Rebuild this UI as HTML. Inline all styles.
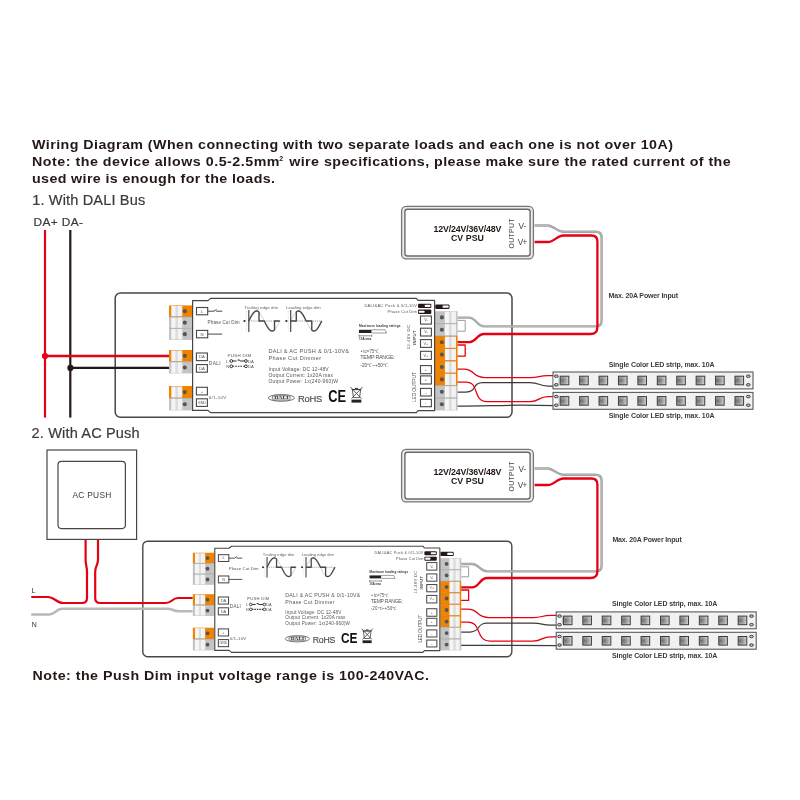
<!DOCTYPE html>
<html lang="en"><head><meta charset="utf-8"><title>Wiring Diagram</title>
<style>
html,body{margin:0;padding:0;background:#fff;}
body{width:800px;height:800px;overflow:hidden;font-family:"Liberation Sans",Arial,sans-serif;}
svg{display:block;will-change:transform;}
</style></head><body>
<svg width="800" height="800" viewBox="0 0 800 800">
<defs>
<linearGradient id="lev" x1="0" y1="0" x2="1" y2="0">
<stop offset="0" stop-color="#f6f6f6"/><stop offset="0.36" stop-color="#f4f4f4"/><stop offset="0.40" stop-color="#dcdcdc"/><stop offset="0.58" stop-color="#dedede"/><stop offset="0.62" stop-color="#f4f4f4"/><stop offset="1" stop-color="#f0f0f0"/>
</linearGradient>
<radialGradient id="led" cx="0.22" cy="0.5" r="0.8">
<stop offset="0" stop-color="#6e6e6e"/><stop offset="0.45" stop-color="#9a9a9a"/><stop offset="1" stop-color="#d4d4d4"/>
</radialGradient>
</defs>
<rect width="800" height="800" fill="#fff"/>
<text transform="translate(32,149) scale(1.08,1)" font-size="13.2" textLength="593.52" font-weight="bold" fill="#231815" font-family="Liberation Sans, Arial, sans-serif">Wiring Diagram (When connecting with two separate loads and each one is not over 10A)</text>
<text transform="translate(32,166.3) scale(1.08,1)" font-size="13.2" textLength="229.17" font-weight="bold" fill="#231815" font-family="Liberation Sans, Arial, sans-serif">Note: the device allows 0.5-2.5mm</text>
<text transform="translate(279.2,160.6) scale(1.0,1)" font-size="7" textLength="4.00" font-weight="bold" fill="#231815" font-family="Liberation Sans, Arial, sans-serif">2</text>
<text transform="translate(289.2,166.3) scale(1.08,1)" font-size="13.2" textLength="408.80" font-weight="bold" fill="#231815" font-family="Liberation Sans, Arial, sans-serif">wire specifications, please make sure the rated current of the</text>
<text transform="translate(32,183.3) scale(1.08,1)" font-size="13.2" textLength="225.00" font-weight="bold" fill="#231815" font-family="Liberation Sans, Arial, sans-serif">used wire is enough for the loads.</text>
<text transform="translate(32.2,205) scale(1.04,1)" font-size="14" textLength="108.65" fill="#3e3a39" stroke="#3e3a39" stroke-width="0.2" font-family="Liberation Sans, Arial, sans-serif">1. With DALI Bus</text>
<text transform="translate(33.6,226.2) scale(1.05,1)" font-size="11.3" textLength="47.05" fill="#3e3a39" stroke="#3e3a39" stroke-width="0.2" font-family="Liberation Sans, Arial, sans-serif">DA+ DA-</text>
<text transform="translate(31.6,438) scale(1.04,1)" font-size="14" textLength="103.85" fill="#3e3a39" stroke="#3e3a39" stroke-width="0.2" font-family="Liberation Sans, Arial, sans-serif">2. With AC Push</text>
<text transform="translate(32.5,679.6) scale(1.08,1)" font-size="13.2" textLength="367.13" font-weight="bold" fill="#231815" font-family="Liberation Sans, Arial, sans-serif">Note: the Push Dim input voltage range is 100-240VAC.</text>
<g id="top">
<rect x="115.2" y="293" width="396.8" height="124.2" rx="5.2" ry="5.2" fill="#fff" stroke="#4a4645" stroke-width="1.5"/>
<rect x="169" y="305.4" width="23.2" height="11.5" fill="#f08300"/><rect x="171.32" y="305.90" width="10.90" height="10.50" fill="url(#lev)"/><circle cx="184.78" cy="311.15" r="2.05" fill="#555"/><rect x="169" y="316.9" width="23.2" height="11.5" fill="#c4c4c4"/><rect x="171.32" y="317.40" width="10.90" height="10.50" fill="url(#lev)"/><circle cx="184.78" cy="322.65" r="2.05" fill="#555"/><rect x="169" y="328.4" width="23.2" height="11.5" fill="#c4c4c4"/><rect x="171.32" y="328.90" width="10.90" height="10.50" fill="url(#lev)"/><circle cx="184.78" cy="334.15" r="2.05" fill="#555"/><line x1="169" y1="316.90" x2="192.2" y2="316.90" stroke="#9a9a9a" stroke-width="0.6"/><line x1="169" y1="328.40" x2="192.2" y2="328.40" stroke="#9a9a9a" stroke-width="0.6"/>
<rect x="169" y="350.0" width="23.2" height="11.7" fill="#f08300"/><rect x="171.32" y="350.50" width="10.90" height="10.70" fill="url(#lev)"/><circle cx="184.78" cy="355.85" r="2.05" fill="#555"/><rect x="169" y="361.7" width="23.2" height="11.7" fill="#c4c4c4"/><rect x="171.32" y="362.20" width="10.90" height="10.70" fill="url(#lev)"/><circle cx="184.78" cy="367.55" r="2.05" fill="#555"/><line x1="169" y1="361.70" x2="192.2" y2="361.70" stroke="#9a9a9a" stroke-width="0.6"/>
<rect x="169" y="386.0" width="23.2" height="12.2" fill="#f08300"/><rect x="171.32" y="386.50" width="10.90" height="11.20" fill="url(#lev)"/><circle cx="184.78" cy="392.10" r="2.05" fill="#555"/><rect x="169" y="398.2" width="23.2" height="12.2" fill="#c4c4c4"/><rect x="171.32" y="398.70" width="10.90" height="11.20" fill="url(#lev)"/><circle cx="184.78" cy="404.30" r="2.05" fill="#555"/><line x1="169" y1="398.20" x2="192.2" y2="398.20" stroke="#9a9a9a" stroke-width="0.6"/>
<rect x="435" y="311.2" width="22.6" height="12.4" fill="#c4c4c4"/><rect x="444.94" y="311.70" width="11.07" height="11.40" fill="url(#lev)"/><circle cx="441.89" cy="317.40" r="2.05" fill="#555"/><rect x="435" y="323.59999999999997" width="22.6" height="12.4" fill="#c4c4c4"/><rect x="444.94" y="324.10" width="11.07" height="11.40" fill="url(#lev)"/><circle cx="441.89" cy="329.80" r="2.05" fill="#555"/><rect x="435" y="336.0" width="22.6" height="12.4" fill="#f08300"/><rect x="444.94" y="336.50" width="11.07" height="11.40" fill="url(#lev)"/><circle cx="441.89" cy="342.20" r="2.05" fill="#555"/><rect x="435" y="348.4" width="22.6" height="12.4" fill="#f08300"/><rect x="444.94" y="348.90" width="11.07" height="11.40" fill="url(#lev)"/><circle cx="441.89" cy="354.60" r="2.05" fill="#555"/><rect x="435" y="360.8" width="22.6" height="12.4" fill="#f08300"/><rect x="444.94" y="361.30" width="11.07" height="11.40" fill="url(#lev)"/><circle cx="441.89" cy="367.00" r="2.05" fill="#555"/><rect x="435" y="373.2" width="22.6" height="12.4" fill="#f08300"/><rect x="444.94" y="373.70" width="11.07" height="11.40" fill="url(#lev)"/><circle cx="441.89" cy="379.40" r="2.05" fill="#555"/><rect x="435" y="385.6" width="22.6" height="12.4" fill="#c4c4c4"/><rect x="444.94" y="386.10" width="11.07" height="11.40" fill="url(#lev)"/><circle cx="441.89" cy="391.80" r="2.05" fill="#555"/><rect x="435" y="398.0" width="22.6" height="12.4" fill="#c4c4c4"/><rect x="444.94" y="398.50" width="11.07" height="11.40" fill="url(#lev)"/><circle cx="441.89" cy="404.20" r="2.05" fill="#555"/><line x1="435" y1="323.60" x2="457.6" y2="323.60" stroke="#9a9a9a" stroke-width="0.6"/><line x1="435" y1="336.00" x2="457.6" y2="336.00" stroke="#9a9a9a" stroke-width="0.6"/><line x1="435" y1="348.40" x2="457.6" y2="348.40" stroke="#c8781a" stroke-width="0.6"/><line x1="435" y1="360.80" x2="457.6" y2="360.80" stroke="#c8781a" stroke-width="0.6"/><line x1="435" y1="373.20" x2="457.6" y2="373.20" stroke="#c8781a" stroke-width="0.6"/><line x1="435" y1="385.60" x2="457.6" y2="385.60" stroke="#9a9a9a" stroke-width="0.6"/><line x1="435" y1="398.00" x2="457.6" y2="398.00" stroke="#9a9a9a" stroke-width="0.6"/>
<path d="M192.6,300.6 H208 L210.5,298.4 H416.4 L418,300.3 H434.6 V410.6 H418 L416.4,412.6 H210.5 L208,410.4 H192.6 Z" fill="#fff" stroke="#4a4645" stroke-width="1.2" stroke-linejoin="round"/>
<rect x="196.5" y="307.5" width="11.2" height="7.3" fill="#fff" stroke="#4a4645" stroke-width="1.1"/><text x="202.10" y="312.66" font-size="4.2" text-anchor="middle" fill="#555" font-family="Liberation Sans, Arial, sans-serif">L</text>
<path d="M207.7,311.2 H214 L216.6,309.4 M216.2,311.2 H222.2" fill="none" stroke="#4a4645" stroke-width="1"/>
<rect x="196.5" y="330.4" width="11.2" height="7.4" fill="#fff" stroke="#4a4645" stroke-width="1.1"/><text x="202.10" y="335.61" font-size="4.2" text-anchor="middle" fill="#555" font-family="Liberation Sans, Arial, sans-serif">N</text>
<path d="M207.7,334.1 H222.2" fill="none" stroke="#4a4645" stroke-width="1"/>
<text x="207.6" y="324.3" font-size="4.6" fill="#555" textLength="32" font-family="Liberation Sans, Arial, sans-serif">Phase Cut Dim</text>
<text x="244.20000000000002" y="309" font-size="4.4" fill="#666" textLength="34" font-family="Liberation Sans, Arial, sans-serif">Trailing edge dim</text>
<path d="M248.80,321.00 L249.58,319.44 L250.35,317.91 L251.12,316.46 L251.90,315.12 L252.68,313.93 L253.45,312.91 L254.23,312.09 L255.00,311.49 L255.78,311.12 L256.55,311.00 L257.32,311.12 L258.10,311.49 L258.88,312.09 L259.65,312.91 L260.43,313.93 L261.20,315.12 L261.98,316.46 L262.75,317.91 L263.53,319.44 L264.30,321.00 L265.07,322.56 L265.85,324.09 L266.62,325.54 L267.40,326.88 L268.18,328.07 L268.95,329.09 L269.73,329.91 L270.50,330.51 L271.28,330.88 L272.05,331.00 L272.82,330.88 L273.60,330.51 L274.38,329.91 L275.15,329.09 L275.93,328.07 L276.70,326.88 L277.48,325.54 L278.25,324.09 L279.03,322.56 L279.80,321.00" fill="none" stroke="#888" stroke-width="0.4"/>
<line x1="248.8" y1="321" x2="280.3" y2="321" stroke="#555" stroke-width="0.6" stroke-dasharray="1.2,1"/>
<line x1="248.8" y1="310" x2="248.8" y2="332" stroke="#4a4645" stroke-width="1.2"/>
<rect x="243.60000000000002" y="320.1" width="1.8" height="1.8" fill="#222"/>
<line x1="246.4" y1="311" x2="246.4" y2="331" stroke="#999" stroke-width="0.5" stroke-dasharray="0.8,1.6"/>
<path d="M248.80,321.00 L249.06,320.48 L249.31,319.97 L249.57,319.45 L249.82,318.94 L250.08,318.44 L250.33,317.94 L250.59,317.45 L250.85,316.97 L251.10,316.50 L251.36,316.05 L251.61,315.60 L251.87,315.17 L252.12,314.76 L252.38,314.36 L252.64,313.98 L252.89,313.62 L253.15,313.28 L253.40,312.97 L253.66,312.67 L253.92,312.39 L254.17,312.14 L254.43,311.91 L254.68,311.71 L254.94,311.53 L255.19,311.38 L255.45,311.25 L255.71,311.15 L255.96,311.07 L256.22,311.02 L256.47,311.00 L256.73,311.01 L256.98,311.04 L257.24,311.10 L257.50,311.18 L257.75,311.29 L258.01,311.43 L258.26,311.60 L258.52,311.79 L258.77,312.00 L259.03,312.24 V321 H264.30 L264.30,321.00 L264.56,321.52 L264.81,322.03 L265.07,322.55 L265.32,323.06 L265.58,323.56 L265.83,324.06 L266.09,324.55 L266.35,325.03 L266.60,325.50 L266.86,325.95 L267.11,326.40 L267.37,326.83 L267.62,327.24 L267.88,327.64 L268.14,328.02 L268.39,328.38 L268.65,328.72 L268.90,329.03 L269.16,329.33 L269.42,329.61 L269.67,329.86 L269.93,330.09 L270.18,330.29 L270.44,330.47 L270.69,330.62 L270.95,330.75 L271.21,330.85 L271.46,330.93 L271.72,330.98 L271.97,331.00 L272.23,330.99 L272.48,330.96 L272.74,330.90 L273.00,330.82 L273.25,330.71 L273.51,330.57 L273.76,330.40 L274.02,330.21 L274.27,330.00 L274.53,329.76 V321 H279.80" fill="none" stroke="#4a4645" stroke-width="1.4" stroke-linejoin="round"/>
<text x="286.09999999999997" y="309" font-size="4.4" fill="#666" textLength="34.5" font-family="Liberation Sans, Arial, sans-serif">Leading edge dim</text>
<path d="M290.70,321.00 L291.47,319.44 L292.25,317.91 L293.02,316.46 L293.80,315.12 L294.57,313.93 L295.35,312.91 L296.12,312.09 L296.90,311.49 L297.68,311.12 L298.45,311.00 L299.22,311.12 L300.00,311.49 L300.77,312.09 L301.55,312.91 L302.32,313.93 L303.10,315.12 L303.88,316.46 L304.65,317.91 L305.43,319.44 L306.20,321.00 L306.97,322.56 L307.75,324.09 L308.52,325.54 L309.30,326.88 L310.07,328.07 L310.85,329.09 L311.62,329.91 L312.40,330.51 L313.18,330.88 L313.95,331.00 L314.72,330.88 L315.50,330.51 L316.27,329.91 L317.05,329.09 L317.82,328.07 L318.60,326.88 L319.38,325.54 L320.15,324.09 L320.93,322.56 L321.70,321.00" fill="none" stroke="#888" stroke-width="0.4"/>
<line x1="290.7" y1="321" x2="322.2" y2="321" stroke="#555" stroke-width="0.6" stroke-dasharray="1.2,1"/>
<line x1="290.7" y1="310" x2="290.7" y2="332" stroke="#4a4645" stroke-width="1.2"/>
<rect x="285.5" y="320.1" width="1.8" height="1.8" fill="#222"/>
<line x1="288.3" y1="311" x2="288.3" y2="331" stroke="#999" stroke-width="0.5" stroke-dasharray="0.8,1.6"/>
<path d="M290.7,321 H296.28 L296.28,311.95 L296.53,311.75 L296.78,311.57 L297.02,311.41 L297.27,311.28 L297.52,311.18 L297.77,311.10 L298.02,311.04 L298.26,311.01 L298.51,311.00 L298.76,311.02 L299.01,311.06 L299.26,311.13 L299.50,311.23 L299.75,311.35 L300.00,311.49 L300.25,311.66 L300.50,311.85 L300.74,312.06 L300.99,312.30 L301.24,312.56 L301.49,312.84 L301.74,313.14 L301.98,313.46 L302.23,313.80 L302.48,314.15 L302.73,314.53 L302.98,314.92 L303.22,315.33 L303.47,315.75 L303.72,316.18 L303.97,316.63 L304.22,317.09 L304.46,317.55 L304.71,318.03 L304.96,318.51 L305.21,319.00 L305.46,319.50 L305.70,320.00 L305.95,320.50 L306.20,321.00 H311.78 L311.78,330.05 L312.03,330.25 L312.28,330.43 L312.52,330.59 L312.77,330.72 L313.02,330.82 L313.27,330.90 L313.52,330.96 L313.76,330.99 L314.01,331.00 L314.26,330.98 L314.51,330.94 L314.76,330.87 L315.00,330.77 L315.25,330.65 L315.50,330.51 L315.75,330.34 L316.00,330.15 L316.24,329.94 L316.49,329.70 L316.74,329.44 L316.99,329.16 L317.24,328.86 L317.48,328.54 L317.73,328.20 L317.98,327.85 L318.23,327.47 L318.48,327.08 L318.72,326.67 L318.97,326.25 L319.22,325.82 L319.47,325.37 L319.72,324.91 L319.96,324.45 L320.21,323.97 L320.46,323.49 L320.71,323.00 L320.96,322.50 L321.20,322.00 L321.45,321.50 L321.70,321.00" fill="none" stroke="#4a4645" stroke-width="1.4" stroke-linejoin="round"/>
<rect x="196.4" y="353" width="11" height="7.6" fill="#fff" stroke="#4a4645" stroke-width="1.1"/><text x="201.90" y="358.31" font-size="4.2" text-anchor="middle" fill="#555" font-family="Liberation Sans, Arial, sans-serif">DA</text>
<rect x="196.4" y="364.6" width="11" height="7.6" fill="#fff" stroke="#4a4645" stroke-width="1.1"/><text x="201.90" y="369.91" font-size="4.2" text-anchor="middle" fill="#555" font-family="Liberation Sans, Arial, sans-serif">DA</text>
<text x="208.8" y="364.8" font-size="4.9" fill="#555" textLength="11.8" font-family="Liberation Sans, Arial, sans-serif">DALI</text>
<text x="227.6" y="356.6" font-size="4.4" fill="#555" textLength="23.6" font-family="Liberation Sans, Arial, sans-serif">PUSH DIM</text>
<text x="226.2" y="362.6" font-size="4.2" fill="#555" font-family="Liberation Sans, Arial, sans-serif">L</text>
<text x="226.2" y="367.8" font-size="4.2" fill="#555" font-family="Liberation Sans, Arial, sans-serif">N</text>
<text x="248" y="362.6" font-size="4.2" fill="#555" font-family="Liberation Sans, Arial, sans-serif">DA</text>
<text x="248" y="367.8" font-size="4.2" fill="#555" font-family="Liberation Sans, Arial, sans-serif">DA</text>
<path d="M232.6,361 H236.6 M237.6,360 H239.2 V361 M240,361 H244.6" fill="none" stroke="#333" stroke-width="1.1"/>
<path d="M232.6,366.3 H244.6" fill="none" stroke="#333" stroke-width="1.1" stroke-dasharray="1.6,1"/>
<circle cx="231.3" cy="361" r="1.4" fill="#fff" stroke="#333" stroke-width="1"/>
<circle cx="245.9" cy="361" r="1.4" fill="#fff" stroke="#333" stroke-width="1"/>
<circle cx="231.3" cy="366.3" r="1.4" fill="#fff" stroke="#333" stroke-width="1"/>
<circle cx="245.9" cy="366.3" r="1.4" fill="#fff" stroke="#333" stroke-width="1"/>
<rect x="196.4" y="387.3" width="11" height="7.6" fill="#fff" stroke="#4a4645" stroke-width="1.1"/><text x="201.90" y="392.61" font-size="4.2" text-anchor="middle" fill="#555" font-family="Liberation Sans, Arial, sans-serif">+</text>
<rect x="196.4" y="398.8" width="11" height="7.6" fill="#fff" stroke="#4a4645" stroke-width="1.1"/><text x="201.90" y="403.97" font-size="3.8" text-anchor="middle" fill="#555" font-family="Liberation Sans, Arial, sans-serif">GND</text>
<text x="208.8" y="399.2" font-size="4.4" fill="#555" textLength="17.4" font-family="Liberation Sans, Arial, sans-serif">0/1-10V</text>
<text x="268.5" y="353.4" font-size="5.6" fill="#595757" textLength="80.5" font-family="Liberation Sans, Arial, sans-serif">DALI &amp; AC PUSH &amp; 0/1-10V&amp;</text>
<text x="268.5" y="360" font-size="5.6" fill="#595757" textLength="52.7" font-family="Liberation Sans, Arial, sans-serif">Phase Cut Dimmer</text>
<text x="268.5" y="370.8" font-size="5" fill="#595757" textLength="60.2" font-family="Liberation Sans, Arial, sans-serif">Input Voltage: DC 12-48V</text>
<text x="268.5" y="376.8" font-size="5" fill="#595757" textLength="64.5" font-family="Liberation Sans, Arial, sans-serif">Output Current: 1x20A max</text>
<text x="268.5" y="382.8" font-size="5" fill="#595757" textLength="69.5" font-family="Liberation Sans, Arial, sans-serif">Output Power: 1x(240-960)W</text>
<ellipse cx="281.4" cy="397.9" rx="13.1" ry="3.4" fill="#fff" stroke="#555" stroke-width="0.8"/>
<rect x="272.4" y="395.7" width="17.8" height="4.4" rx="1.4" fill="#e4e4e4" stroke="#555" stroke-width="0.7"/>
<text x="281.4" y="399.4" font-size="4" font-weight="bold" text-anchor="middle" fill="#333" textLength="14.4" lengthAdjust="spacingAndGlyphs" font-family="Liberation Serif, serif">DALI</text>
<text x="298" y="402" font-size="9.4" fill="#4a4a4a" stroke="#4a4a4a" stroke-width="0.15" textLength="24.2" font-family="Liberation Sans, Arial, sans-serif">RoHS</text>
<text x="328.2" y="402" font-size="16" font-weight="bold" fill="#111" textLength="17.8" lengthAdjust="spacingAndGlyphs" font-family="Liberation Sans, Arial, sans-serif">CE</text>
<g stroke="#333" stroke-width="0.8" fill="none"><path d="M352.4,389.6 H360.6 L359.6,397.6 H353.4 Z"/><path d="M350.4,387 L361.4,398.6 M362.6,387 L351.6,398.6"/><path d="M351.6,389.4 H361.4"/><path d="M355,388.4 H358" stroke-width="1"/></g>
<rect x="351.5" y="399.6" width="9.8" height="3" fill="#222"/>
<text x="364.4" y="307.2" font-size="4" fill="#555" textLength="52.4" font-family="Liberation Sans, Arial, sans-serif">DALI&amp;AC Push &amp; 0/1-10V</text>
<text x="387.6" y="313" font-size="4" fill="#555" textLength="29.2" font-family="Liberation Sans, Arial, sans-serif">Phase Cut Dim</text>
<rect x="418" y="303.8" width="13.3" height="4.3" rx="1" fill="#231815"/><rect x="424.85" y="304.85" width="5.55" height="2.20" rx="0.5" fill="#fff"/>
<rect x="418" y="309.6" width="13.3" height="4.3" rx="1" fill="#231815"/><rect x="418.90" y="310.65" width="5.55" height="2.20" rx="0.5" fill="#fff"/>
<rect x="435.3" y="304.4" width="14.2" height="4.5" rx="1" fill="#231815"/><rect x="442.60" y="305.45" width="6.00" height="2.40" rx="0.5" fill="#fff"/>
<text x="359" y="327.2" font-size="3.2" font-weight="bold" fill="#333" textLength="41.5" font-family="Liberation Sans, Arial, sans-serif">Maximum loading ratings</text>
<rect x="359" y="329.8" width="12.7" height="3.2" fill="#222"/>
<path d="M371.7,329.8 H385 L386.6,333 H371.7" fill="#fff" stroke="#555" stroke-width="0.6"/>
<path d="M359,335.8 H371.7 M359,334.8 V336.8 M371.7,334.8 V336.8" stroke="#444" stroke-width="0.6" fill="none"/>
<text x="359" y="340" font-size="3" font-weight="bold" fill="#333" textLength="12.5" font-family="Liberation Sans, Arial, sans-serif">10A max</text>
<text x="360.8" y="352.8" font-size="4.8" fill="#666" textLength="18.2" font-family="Liberation Sans, Arial, sans-serif">• tc=75℃</text>
<text x="360.3" y="359.4" font-size="5.4" fill="#555" textLength="34.5" font-family="Liberation Sans, Arial, sans-serif">TEMP RANGE:</text>
<text x="360.3" y="366.8" font-size="4.8" fill="#555" textLength="27.7" font-family="Liberation Sans, Arial, sans-serif">-20℃~+50℃</text>
<text transform="translate(410.4,349.3) rotate(-90)" font-size="4.3" fill="#555" textLength="24.3" font-family="Liberation Sans, Arial, sans-serif">12-48V DC</text>
<text transform="translate(416,345) rotate(-90)" font-size="4.3" font-weight="bold" fill="#4a4a4a" textLength="14.6" font-family="Liberation Sans, Arial, sans-serif">INPUT</text>
<text transform="translate(415.9,402) rotate(-90)" font-size="5" fill="#555" textLength="30" font-family="Liberation Sans, Arial, sans-serif">LED OUTPUT</text>
<rect x="420.5" y="316" width="10.9" height="8.1" fill="#fff" stroke="#4a4645" stroke-width="1.1"/><text x="425.95" y="321.42" font-size="3.8" text-anchor="middle" fill="#555" font-family="Liberation Sans, Arial, sans-serif">V-</text>
<rect x="420.5" y="328.2" width="10.9" height="7.8" fill="#fff" stroke="#4a4645" stroke-width="1.1"/><text x="425.95" y="333.47" font-size="3.8" text-anchor="middle" fill="#555" font-family="Liberation Sans, Arial, sans-serif">V-</text>
<rect x="420.5" y="339.6" width="10.9" height="7.8" fill="#fff" stroke="#4a4645" stroke-width="1.1"/><text x="425.95" y="344.87" font-size="3.8" text-anchor="middle" fill="#555" font-family="Liberation Sans, Arial, sans-serif">V+</text>
<rect x="420.5" y="351.3" width="10.9" height="8.1" fill="#fff" stroke="#4a4645" stroke-width="1.1"/><text x="425.95" y="356.72" font-size="3.8" text-anchor="middle" fill="#555" font-family="Liberation Sans, Arial, sans-serif">V+</text>
<rect x="420.5" y="365.6" width="10.9" height="8.1" fill="#fff" stroke="#4a4645" stroke-width="1.1"/><text x="425.95" y="371.02" font-size="3.8" text-anchor="middle" fill="#555" font-family="Liberation Sans, Arial, sans-serif">+</text>
<rect x="420.5" y="375.9" width="10.9" height="8.1" fill="#fff" stroke="#4a4645" stroke-width="1.1"/><text x="425.95" y="381.32" font-size="3.8" text-anchor="middle" fill="#555" font-family="Liberation Sans, Arial, sans-serif">+</text>
<rect x="420.5" y="388.4" width="10.9" height="7.6" fill="#fff" stroke="#4a4645" stroke-width="1.1"/><text x="425.95" y="393.57" font-size="3.8" text-anchor="middle" fill="#555" font-family="Liberation Sans, Arial, sans-serif">-</text>
<rect x="420.5" y="399.3" width="10.9" height="7.4" fill="#fff" stroke="#4a4645" stroke-width="1.1"/><text x="425.95" y="404.37" font-size="3.8" text-anchor="middle" fill="#555" font-family="Liberation Sans, Arial, sans-serif">-</text>
<path d="M45,230 V417.6" fill="none" stroke="#e60012" stroke-width="2.2" stroke-linejoin="round"/>
<path d="M70.3,230 V417.6" fill="none" stroke="#231815" stroke-width="2.2" stroke-linejoin="round"/>
<path d="M45,356 H169" fill="none" stroke="#e60012" stroke-width="2.4" stroke-linejoin="round"/>
<path d="M70.4,367.9 H169" fill="none" stroke="#231815" stroke-width="2.4" stroke-linejoin="round"/>
<circle cx="45" cy="356" r="3.1" fill="#e60012"/><circle cx="70.4" cy="367.9" r="3.1" fill="#231815"/>
<rect x="401.6" y="206.4" width="131.8" height="52.4" rx="4.6" fill="#ececec" stroke="#757575" stroke-width="1.3"/>
<rect x="404.9" y="209.20000000000002" width="125.2" height="46.8" rx="2.4" fill="#fff" stroke="#6a6a6a" stroke-width="1.4"/>
<text x="467.4" y="231.5" font-size="8.8" font-weight="bold" text-anchor="middle" fill="#231815" textLength="68" font-family="Liberation Sans, Arial, sans-serif">12V/24V/36V/48V</text>
<text x="467.4" y="240.9" font-size="8.8" font-weight="bold" text-anchor="middle" fill="#231815" textLength="33" font-family="Liberation Sans, Arial, sans-serif">CV PSU</text>
<text transform="translate(514.3,248.4) rotate(-90)" font-size="6.8" fill="#444" textLength="29.8" font-family="Liberation Sans, Arial, sans-serif">OUTPUT</text>
<text x="518.6" y="229.0" font-size="8.2" fill="#444" font-family="Liberation Sans, Arial, sans-serif">V-</text>
<text x="517.8" y="244.8" font-size="8.2" fill="#444" textLength="9.6" font-family="Liberation Sans, Arial, sans-serif">V+</text>
<path d="M534.6,225.5 H548 C553,225.5 557,231.8 563.5,231.8 H595.6 Q601.6,231.8 601.6,237.8 V320.4 Q601.6,326.4 595.6,326.4 H484 C477,326.4 476,317.6 469,317.6 H457.6" fill="none" stroke="#a0a0a0" stroke-width="2.4" stroke-linejoin="round"/><path d="M534.6,225.5 H548 C553,225.5 557,231.8 563.5,231.8 H595.6 Q601.6,231.8 601.6,237.8 V320.4 Q601.6,326.4 595.6,326.4 H484 C477,326.4 476,317.6 469,317.6 H457.6" fill="none" stroke="#bdbdbd" stroke-width="0.8" stroke-linejoin="round"/>
<path d="M457.6,320.4 H465.2 V331.2 H457.6" fill="none" stroke="#9c9c9c" stroke-width="1" stroke-linejoin="round"/>
<path d="M534.6,242 H548 C554,242 557,235.5 563.5,235.5 H591.4 Q597.4,235.5 597.4,241.5 V327 Q597.4,334 590.4,334 H484 C477,334 476,342.2 469,342.2 H457.6" fill="none" stroke="#e60012" stroke-width="2.3" stroke-linejoin="round"/>
<path d="M457.6,345 H465.2 V356.2 H457.6" fill="none" stroke="#e60012" stroke-width="1.3" stroke-linejoin="round"/>
<path d="M457.6,369 H464 C475,369 472,377.6 485,377.6 H530 C540,377.6 538,375.6 548,375.6 H556" fill="none" stroke="#e60012" stroke-width="1.25" stroke-linejoin="round"/>
<path d="M457.6,392 H466 C477,392 472,382.5 483,382.5 H530 C540,382.5 538,386 548,386 H556" fill="none" stroke="#3e3a39" stroke-width="1.25" stroke-linejoin="round"/>
<path d="M457.6,382 H466 C480,382 472,401.6 487,401.6 H530 C540,401.6 538,396.6 548,396.6 H556" fill="none" stroke="#e60012" stroke-width="1.25" stroke-linejoin="round"/>
<path d="M457.6,406 C480,406 500,405.2 520,405.2 L556,405.6" fill="none" stroke="#3e3a39" stroke-width="1.25" stroke-linejoin="round"/>
<rect x="553" y="372" width="200" height="16.9" fill="#f1f1f1" stroke="#5a5a5a" stroke-width="1.1"/>
<rect x="560.20" y="376.20" width="8.6" height="8.6" fill="url(#led)" stroke="#3c3c3c" stroke-width="1"/>
<rect x="579.62" y="376.20" width="8.6" height="8.6" fill="url(#led)" stroke="#3c3c3c" stroke-width="1"/>
<rect x="599.04" y="376.20" width="8.6" height="8.6" fill="url(#led)" stroke="#3c3c3c" stroke-width="1"/>
<rect x="618.46" y="376.20" width="8.6" height="8.6" fill="url(#led)" stroke="#3c3c3c" stroke-width="1"/>
<rect x="637.88" y="376.20" width="8.6" height="8.6" fill="url(#led)" stroke="#3c3c3c" stroke-width="1"/>
<rect x="657.30" y="376.20" width="8.6" height="8.6" fill="url(#led)" stroke="#3c3c3c" stroke-width="1"/>
<rect x="676.72" y="376.20" width="8.6" height="8.6" fill="url(#led)" stroke="#3c3c3c" stroke-width="1"/>
<rect x="696.14" y="376.20" width="8.6" height="8.6" fill="url(#led)" stroke="#3c3c3c" stroke-width="1"/>
<rect x="715.56" y="376.20" width="8.6" height="8.6" fill="url(#led)" stroke="#3c3c3c" stroke-width="1"/>
<rect x="734.98" y="376.20" width="8.6" height="8.6" fill="url(#led)" stroke="#3c3c3c" stroke-width="1"/>
<rect x="553.6" y="376.20" width="5.4" height="8.6" fill="#fafafa"/>
<ellipse cx="556.3" cy="376.20" rx="1.9" ry="1.25" fill="#c8c8c8" stroke="#2e2e2e" stroke-width="0.9"/>
<ellipse cx="556.3" cy="384.80" rx="1.9" ry="1.25" fill="#c8c8c8" stroke="#2e2e2e" stroke-width="0.9"/>
<ellipse cx="748.3" cy="376.20" rx="1.9" ry="1.25" fill="#c8c8c8" stroke="#2e2e2e" stroke-width="0.9"/>
<ellipse cx="748.3" cy="384.80" rx="1.9" ry="1.25" fill="#c8c8c8" stroke="#2e2e2e" stroke-width="0.9"/>
<line x1="559" y1="377" x2="559" y2="384" stroke="#777" stroke-width="0.5"/>
<rect x="553" y="392.4" width="200" height="16.9" fill="#f1f1f1" stroke="#5a5a5a" stroke-width="1.1"/>
<rect x="560.20" y="396.60" width="8.6" height="8.6" fill="url(#led)" stroke="#3c3c3c" stroke-width="1"/>
<rect x="579.62" y="396.60" width="8.6" height="8.6" fill="url(#led)" stroke="#3c3c3c" stroke-width="1"/>
<rect x="599.04" y="396.60" width="8.6" height="8.6" fill="url(#led)" stroke="#3c3c3c" stroke-width="1"/>
<rect x="618.46" y="396.60" width="8.6" height="8.6" fill="url(#led)" stroke="#3c3c3c" stroke-width="1"/>
<rect x="637.88" y="396.60" width="8.6" height="8.6" fill="url(#led)" stroke="#3c3c3c" stroke-width="1"/>
<rect x="657.30" y="396.60" width="8.6" height="8.6" fill="url(#led)" stroke="#3c3c3c" stroke-width="1"/>
<rect x="676.72" y="396.60" width="8.6" height="8.6" fill="url(#led)" stroke="#3c3c3c" stroke-width="1"/>
<rect x="696.14" y="396.60" width="8.6" height="8.6" fill="url(#led)" stroke="#3c3c3c" stroke-width="1"/>
<rect x="715.56" y="396.60" width="8.6" height="8.6" fill="url(#led)" stroke="#3c3c3c" stroke-width="1"/>
<rect x="734.98" y="396.60" width="8.6" height="8.6" fill="url(#led)" stroke="#3c3c3c" stroke-width="1"/>
<rect x="553.6" y="396.60" width="5.4" height="8.6" fill="#fafafa"/>
<ellipse cx="556.3" cy="396.60" rx="1.9" ry="1.25" fill="#c8c8c8" stroke="#2e2e2e" stroke-width="0.9"/>
<ellipse cx="556.3" cy="405.20" rx="1.9" ry="1.25" fill="#c8c8c8" stroke="#2e2e2e" stroke-width="0.9"/>
<ellipse cx="748.3" cy="396.60" rx="1.9" ry="1.25" fill="#c8c8c8" stroke="#2e2e2e" stroke-width="0.9"/>
<ellipse cx="748.3" cy="405.20" rx="1.9" ry="1.25" fill="#c8c8c8" stroke="#2e2e2e" stroke-width="0.9"/>
<line x1="559" y1="397.4" x2="559" y2="404.4" stroke="#777" stroke-width="0.5"/>
<text x="608.7" y="367" font-size="7" font-weight="bold" textLength="105.8" fill="#3e3a39" font-family="Liberation Sans, Arial, sans-serif">Single Color LED strip, max. 10A</text>
<text x="608.7" y="418" font-size="7" font-weight="bold" textLength="105.8" fill="#3e3a39" font-family="Liberation Sans, Arial, sans-serif">Single Color LED strip, max. 10A</text>
<text x="608.6" y="297.8" font-size="7" font-weight="bold" textLength="69.4" fill="#3e3a39" font-family="Liberation Sans, Arial, sans-serif">Max. 20A Power Input</text>
</g>
<g id="bottom">
<g transform="translate(142.8,541.2) scale(0.93) translate(-115.2,-293)">
<rect x="115.2" y="293" width="396.8" height="124.2" rx="5.2" ry="5.2" fill="#fff" stroke="#4a4645" stroke-width="1.5"/>
<rect x="169" y="305.4" width="23.2" height="11.5" fill="#f08300"/><rect x="171.32" y="305.90" width="10.90" height="10.50" fill="url(#lev)"/><circle cx="184.78" cy="311.15" r="2.05" fill="#555"/><rect x="169" y="316.9" width="23.2" height="11.5" fill="#c4c4c4"/><rect x="171.32" y="317.40" width="10.90" height="10.50" fill="url(#lev)"/><circle cx="184.78" cy="322.65" r="2.05" fill="#555"/><rect x="169" y="328.4" width="23.2" height="11.5" fill="#c4c4c4"/><rect x="171.32" y="328.90" width="10.90" height="10.50" fill="url(#lev)"/><circle cx="184.78" cy="334.15" r="2.05" fill="#555"/><line x1="169" y1="316.90" x2="192.2" y2="316.90" stroke="#9a9a9a" stroke-width="0.6"/><line x1="169" y1="328.40" x2="192.2" y2="328.40" stroke="#9a9a9a" stroke-width="0.6"/>
<rect x="169" y="350.0" width="23.2" height="11.7" fill="#f08300"/><rect x="171.32" y="350.50" width="10.90" height="10.70" fill="url(#lev)"/><circle cx="184.78" cy="355.85" r="2.05" fill="#555"/><rect x="169" y="361.7" width="23.2" height="11.7" fill="#c4c4c4"/><rect x="171.32" y="362.20" width="10.90" height="10.70" fill="url(#lev)"/><circle cx="184.78" cy="367.55" r="2.05" fill="#555"/><line x1="169" y1="361.70" x2="192.2" y2="361.70" stroke="#9a9a9a" stroke-width="0.6"/>
<rect x="169" y="386.0" width="23.2" height="12.2" fill="#f08300"/><rect x="171.32" y="386.50" width="10.90" height="11.20" fill="url(#lev)"/><circle cx="184.78" cy="392.10" r="2.05" fill="#555"/><rect x="169" y="398.2" width="23.2" height="12.2" fill="#c4c4c4"/><rect x="171.32" y="398.70" width="10.90" height="11.20" fill="url(#lev)"/><circle cx="184.78" cy="404.30" r="2.05" fill="#555"/><line x1="169" y1="398.20" x2="192.2" y2="398.20" stroke="#9a9a9a" stroke-width="0.6"/>
<rect x="435" y="311.2" width="22.6" height="12.4" fill="#c4c4c4"/><rect x="444.94" y="311.70" width="11.07" height="11.40" fill="url(#lev)"/><circle cx="441.89" cy="317.40" r="2.05" fill="#555"/><rect x="435" y="323.59999999999997" width="22.6" height="12.4" fill="#c4c4c4"/><rect x="444.94" y="324.10" width="11.07" height="11.40" fill="url(#lev)"/><circle cx="441.89" cy="329.80" r="2.05" fill="#555"/><rect x="435" y="336.0" width="22.6" height="12.4" fill="#f08300"/><rect x="444.94" y="336.50" width="11.07" height="11.40" fill="url(#lev)"/><circle cx="441.89" cy="342.20" r="2.05" fill="#555"/><rect x="435" y="348.4" width="22.6" height="12.4" fill="#f08300"/><rect x="444.94" y="348.90" width="11.07" height="11.40" fill="url(#lev)"/><circle cx="441.89" cy="354.60" r="2.05" fill="#555"/><rect x="435" y="360.8" width="22.6" height="12.4" fill="#f08300"/><rect x="444.94" y="361.30" width="11.07" height="11.40" fill="url(#lev)"/><circle cx="441.89" cy="367.00" r="2.05" fill="#555"/><rect x="435" y="373.2" width="22.6" height="12.4" fill="#f08300"/><rect x="444.94" y="373.70" width="11.07" height="11.40" fill="url(#lev)"/><circle cx="441.89" cy="379.40" r="2.05" fill="#555"/><rect x="435" y="385.6" width="22.6" height="12.4" fill="#c4c4c4"/><rect x="444.94" y="386.10" width="11.07" height="11.40" fill="url(#lev)"/><circle cx="441.89" cy="391.80" r="2.05" fill="#555"/><rect x="435" y="398.0" width="22.6" height="12.4" fill="#c4c4c4"/><rect x="444.94" y="398.50" width="11.07" height="11.40" fill="url(#lev)"/><circle cx="441.89" cy="404.20" r="2.05" fill="#555"/><line x1="435" y1="323.60" x2="457.6" y2="323.60" stroke="#9a9a9a" stroke-width="0.6"/><line x1="435" y1="336.00" x2="457.6" y2="336.00" stroke="#9a9a9a" stroke-width="0.6"/><line x1="435" y1="348.40" x2="457.6" y2="348.40" stroke="#c8781a" stroke-width="0.6"/><line x1="435" y1="360.80" x2="457.6" y2="360.80" stroke="#c8781a" stroke-width="0.6"/><line x1="435" y1="373.20" x2="457.6" y2="373.20" stroke="#c8781a" stroke-width="0.6"/><line x1="435" y1="385.60" x2="457.6" y2="385.60" stroke="#9a9a9a" stroke-width="0.6"/><line x1="435" y1="398.00" x2="457.6" y2="398.00" stroke="#9a9a9a" stroke-width="0.6"/>
<path d="M192.6,300.6 H208 L210.5,298.4 H416.4 L418,300.3 H434.6 V410.6 H418 L416.4,412.6 H210.5 L208,410.4 H192.6 Z" fill="#fff" stroke="#4a4645" stroke-width="1.2" stroke-linejoin="round"/>
<rect x="196.5" y="307.5" width="11.2" height="7.3" fill="#fff" stroke="#4a4645" stroke-width="1.1"/><text x="202.10" y="312.66" font-size="4.2" text-anchor="middle" fill="#555" font-family="Liberation Sans, Arial, sans-serif">L</text>
<path d="M207.7,311.2 H214 L216.6,309.4 M216.2,311.2 H222.2" fill="none" stroke="#4a4645" stroke-width="1"/>
<rect x="196.5" y="330.4" width="11.2" height="7.4" fill="#fff" stroke="#4a4645" stroke-width="1.1"/><text x="202.10" y="335.61" font-size="4.2" text-anchor="middle" fill="#555" font-family="Liberation Sans, Arial, sans-serif">N</text>
<path d="M207.7,334.1 H222.2" fill="none" stroke="#4a4645" stroke-width="1"/>
<text x="207.6" y="324.3" font-size="4.6" fill="#555" textLength="32" font-family="Liberation Sans, Arial, sans-serif">Phase Cut Dim</text>
<text x="244.20000000000002" y="309" font-size="4.4" fill="#666" textLength="34" font-family="Liberation Sans, Arial, sans-serif">Trailing edge dim</text>
<path d="M248.80,321.00 L249.58,319.44 L250.35,317.91 L251.12,316.46 L251.90,315.12 L252.68,313.93 L253.45,312.91 L254.23,312.09 L255.00,311.49 L255.78,311.12 L256.55,311.00 L257.32,311.12 L258.10,311.49 L258.88,312.09 L259.65,312.91 L260.43,313.93 L261.20,315.12 L261.98,316.46 L262.75,317.91 L263.53,319.44 L264.30,321.00 L265.07,322.56 L265.85,324.09 L266.62,325.54 L267.40,326.88 L268.18,328.07 L268.95,329.09 L269.73,329.91 L270.50,330.51 L271.28,330.88 L272.05,331.00 L272.82,330.88 L273.60,330.51 L274.38,329.91 L275.15,329.09 L275.93,328.07 L276.70,326.88 L277.48,325.54 L278.25,324.09 L279.03,322.56 L279.80,321.00" fill="none" stroke="#888" stroke-width="0.4"/>
<line x1="248.8" y1="321" x2="280.3" y2="321" stroke="#555" stroke-width="0.6" stroke-dasharray="1.2,1"/>
<line x1="248.8" y1="310" x2="248.8" y2="332" stroke="#4a4645" stroke-width="1.2"/>
<rect x="243.60000000000002" y="320.1" width="1.8" height="1.8" fill="#222"/>
<line x1="246.4" y1="311" x2="246.4" y2="331" stroke="#999" stroke-width="0.5" stroke-dasharray="0.8,1.6"/>
<path d="M248.80,321.00 L249.06,320.48 L249.31,319.97 L249.57,319.45 L249.82,318.94 L250.08,318.44 L250.33,317.94 L250.59,317.45 L250.85,316.97 L251.10,316.50 L251.36,316.05 L251.61,315.60 L251.87,315.17 L252.12,314.76 L252.38,314.36 L252.64,313.98 L252.89,313.62 L253.15,313.28 L253.40,312.97 L253.66,312.67 L253.92,312.39 L254.17,312.14 L254.43,311.91 L254.68,311.71 L254.94,311.53 L255.19,311.38 L255.45,311.25 L255.71,311.15 L255.96,311.07 L256.22,311.02 L256.47,311.00 L256.73,311.01 L256.98,311.04 L257.24,311.10 L257.50,311.18 L257.75,311.29 L258.01,311.43 L258.26,311.60 L258.52,311.79 L258.77,312.00 L259.03,312.24 V321 H264.30 L264.30,321.00 L264.56,321.52 L264.81,322.03 L265.07,322.55 L265.32,323.06 L265.58,323.56 L265.83,324.06 L266.09,324.55 L266.35,325.03 L266.60,325.50 L266.86,325.95 L267.11,326.40 L267.37,326.83 L267.62,327.24 L267.88,327.64 L268.14,328.02 L268.39,328.38 L268.65,328.72 L268.90,329.03 L269.16,329.33 L269.42,329.61 L269.67,329.86 L269.93,330.09 L270.18,330.29 L270.44,330.47 L270.69,330.62 L270.95,330.75 L271.21,330.85 L271.46,330.93 L271.72,330.98 L271.97,331.00 L272.23,330.99 L272.48,330.96 L272.74,330.90 L273.00,330.82 L273.25,330.71 L273.51,330.57 L273.76,330.40 L274.02,330.21 L274.27,330.00 L274.53,329.76 V321 H279.80" fill="none" stroke="#4a4645" stroke-width="1.4" stroke-linejoin="round"/>
<text x="286.09999999999997" y="309" font-size="4.4" fill="#666" textLength="34.5" font-family="Liberation Sans, Arial, sans-serif">Leading edge dim</text>
<path d="M290.70,321.00 L291.47,319.44 L292.25,317.91 L293.02,316.46 L293.80,315.12 L294.57,313.93 L295.35,312.91 L296.12,312.09 L296.90,311.49 L297.68,311.12 L298.45,311.00 L299.22,311.12 L300.00,311.49 L300.77,312.09 L301.55,312.91 L302.32,313.93 L303.10,315.12 L303.88,316.46 L304.65,317.91 L305.43,319.44 L306.20,321.00 L306.97,322.56 L307.75,324.09 L308.52,325.54 L309.30,326.88 L310.07,328.07 L310.85,329.09 L311.62,329.91 L312.40,330.51 L313.18,330.88 L313.95,331.00 L314.72,330.88 L315.50,330.51 L316.27,329.91 L317.05,329.09 L317.82,328.07 L318.60,326.88 L319.38,325.54 L320.15,324.09 L320.93,322.56 L321.70,321.00" fill="none" stroke="#888" stroke-width="0.4"/>
<line x1="290.7" y1="321" x2="322.2" y2="321" stroke="#555" stroke-width="0.6" stroke-dasharray="1.2,1"/>
<line x1="290.7" y1="310" x2="290.7" y2="332" stroke="#4a4645" stroke-width="1.2"/>
<rect x="285.5" y="320.1" width="1.8" height="1.8" fill="#222"/>
<line x1="288.3" y1="311" x2="288.3" y2="331" stroke="#999" stroke-width="0.5" stroke-dasharray="0.8,1.6"/>
<path d="M290.7,321 H296.28 L296.28,311.95 L296.53,311.75 L296.78,311.57 L297.02,311.41 L297.27,311.28 L297.52,311.18 L297.77,311.10 L298.02,311.04 L298.26,311.01 L298.51,311.00 L298.76,311.02 L299.01,311.06 L299.26,311.13 L299.50,311.23 L299.75,311.35 L300.00,311.49 L300.25,311.66 L300.50,311.85 L300.74,312.06 L300.99,312.30 L301.24,312.56 L301.49,312.84 L301.74,313.14 L301.98,313.46 L302.23,313.80 L302.48,314.15 L302.73,314.53 L302.98,314.92 L303.22,315.33 L303.47,315.75 L303.72,316.18 L303.97,316.63 L304.22,317.09 L304.46,317.55 L304.71,318.03 L304.96,318.51 L305.21,319.00 L305.46,319.50 L305.70,320.00 L305.95,320.50 L306.20,321.00 H311.78 L311.78,330.05 L312.03,330.25 L312.28,330.43 L312.52,330.59 L312.77,330.72 L313.02,330.82 L313.27,330.90 L313.52,330.96 L313.76,330.99 L314.01,331.00 L314.26,330.98 L314.51,330.94 L314.76,330.87 L315.00,330.77 L315.25,330.65 L315.50,330.51 L315.75,330.34 L316.00,330.15 L316.24,329.94 L316.49,329.70 L316.74,329.44 L316.99,329.16 L317.24,328.86 L317.48,328.54 L317.73,328.20 L317.98,327.85 L318.23,327.47 L318.48,327.08 L318.72,326.67 L318.97,326.25 L319.22,325.82 L319.47,325.37 L319.72,324.91 L319.96,324.45 L320.21,323.97 L320.46,323.49 L320.71,323.00 L320.96,322.50 L321.20,322.00 L321.45,321.50 L321.70,321.00" fill="none" stroke="#4a4645" stroke-width="1.4" stroke-linejoin="round"/>
<rect x="196.4" y="353" width="11" height="7.6" fill="#fff" stroke="#4a4645" stroke-width="1.1"/><text x="201.90" y="358.31" font-size="4.2" text-anchor="middle" fill="#555" font-family="Liberation Sans, Arial, sans-serif">DA</text>
<rect x="196.4" y="364.6" width="11" height="7.6" fill="#fff" stroke="#4a4645" stroke-width="1.1"/><text x="201.90" y="369.91" font-size="4.2" text-anchor="middle" fill="#555" font-family="Liberation Sans, Arial, sans-serif">DA</text>
<text x="208.8" y="364.8" font-size="4.9" fill="#555" textLength="11.8" font-family="Liberation Sans, Arial, sans-serif">DALI</text>
<text x="227.6" y="356.6" font-size="4.4" fill="#555" textLength="23.6" font-family="Liberation Sans, Arial, sans-serif">PUSH DIM</text>
<text x="226.2" y="362.6" font-size="4.2" fill="#555" font-family="Liberation Sans, Arial, sans-serif">L</text>
<text x="226.2" y="367.8" font-size="4.2" fill="#555" font-family="Liberation Sans, Arial, sans-serif">N</text>
<text x="248" y="362.6" font-size="4.2" fill="#555" font-family="Liberation Sans, Arial, sans-serif">DA</text>
<text x="248" y="367.8" font-size="4.2" fill="#555" font-family="Liberation Sans, Arial, sans-serif">DA</text>
<path d="M232.6,361 H236.6 M237.6,360 H239.2 V361 M240,361 H244.6" fill="none" stroke="#333" stroke-width="1.1"/>
<path d="M232.6,366.3 H244.6" fill="none" stroke="#333" stroke-width="1.1" stroke-dasharray="1.6,1"/>
<circle cx="231.3" cy="361" r="1.4" fill="#fff" stroke="#333" stroke-width="1"/>
<circle cx="245.9" cy="361" r="1.4" fill="#fff" stroke="#333" stroke-width="1"/>
<circle cx="231.3" cy="366.3" r="1.4" fill="#fff" stroke="#333" stroke-width="1"/>
<circle cx="245.9" cy="366.3" r="1.4" fill="#fff" stroke="#333" stroke-width="1"/>
<rect x="196.4" y="387.3" width="11" height="7.6" fill="#fff" stroke="#4a4645" stroke-width="1.1"/><text x="201.90" y="392.61" font-size="4.2" text-anchor="middle" fill="#555" font-family="Liberation Sans, Arial, sans-serif">+</text>
<rect x="196.4" y="398.8" width="11" height="7.6" fill="#fff" stroke="#4a4645" stroke-width="1.1"/><text x="201.90" y="403.97" font-size="3.8" text-anchor="middle" fill="#555" font-family="Liberation Sans, Arial, sans-serif">GND</text>
<text x="208.8" y="399.2" font-size="4.4" fill="#555" textLength="17.4" font-family="Liberation Sans, Arial, sans-serif">0/1-10V</text>
<text x="268.5" y="353.4" font-size="5.6" fill="#595757" textLength="80.5" font-family="Liberation Sans, Arial, sans-serif">DALI &amp; AC PUSH &amp; 0/1-10V&amp;</text>
<text x="268.5" y="360" font-size="5.6" fill="#595757" textLength="52.7" font-family="Liberation Sans, Arial, sans-serif">Phase Cut Dimmer</text>
<text x="268.5" y="370.8" font-size="5" fill="#595757" textLength="60.2" font-family="Liberation Sans, Arial, sans-serif">Input Voltage: DC 12-48V</text>
<text x="268.5" y="376.8" font-size="5" fill="#595757" textLength="64.5" font-family="Liberation Sans, Arial, sans-serif">Output Current: 1x20A max</text>
<text x="268.5" y="382.8" font-size="5" fill="#595757" textLength="69.5" font-family="Liberation Sans, Arial, sans-serif">Output Power: 1x(240-960)W</text>
<ellipse cx="281.4" cy="397.9" rx="13.1" ry="3.4" fill="#fff" stroke="#555" stroke-width="0.8"/>
<rect x="272.4" y="395.7" width="17.8" height="4.4" rx="1.4" fill="#e4e4e4" stroke="#555" stroke-width="0.7"/>
<text x="281.4" y="399.4" font-size="4" font-weight="bold" text-anchor="middle" fill="#333" textLength="14.4" lengthAdjust="spacingAndGlyphs" font-family="Liberation Serif, serif">DALI</text>
<text x="298" y="402" font-size="9.4" fill="#4a4a4a" stroke="#4a4a4a" stroke-width="0.15" textLength="24.2" font-family="Liberation Sans, Arial, sans-serif">RoHS</text>
<text x="328.2" y="402" font-size="16" font-weight="bold" fill="#111" textLength="17.8" lengthAdjust="spacingAndGlyphs" font-family="Liberation Sans, Arial, sans-serif">CE</text>
<g stroke="#333" stroke-width="0.8" fill="none"><path d="M352.4,389.6 H360.6 L359.6,397.6 H353.4 Z"/><path d="M350.4,387 L361.4,398.6 M362.6,387 L351.6,398.6"/><path d="M351.6,389.4 H361.4"/><path d="M355,388.4 H358" stroke-width="1"/></g>
<rect x="351.5" y="399.6" width="9.8" height="3" fill="#222"/>
<text x="364.4" y="307.2" font-size="4" fill="#555" textLength="52.4" font-family="Liberation Sans, Arial, sans-serif">DALI&amp;AC Push &amp; 0/1-10V</text>
<text x="387.6" y="313" font-size="4" fill="#555" textLength="29.2" font-family="Liberation Sans, Arial, sans-serif">Phase Cut Dim</text>
<rect x="418" y="303.8" width="13.3" height="4.3" rx="1" fill="#231815"/><rect x="424.85" y="304.85" width="5.55" height="2.20" rx="0.5" fill="#fff"/>
<rect x="418" y="309.6" width="13.3" height="4.3" rx="1" fill="#231815"/><rect x="418.90" y="310.65" width="5.55" height="2.20" rx="0.5" fill="#fff"/>
<rect x="435.3" y="304.4" width="14.2" height="4.5" rx="1" fill="#231815"/><rect x="442.60" y="305.45" width="6.00" height="2.40" rx="0.5" fill="#fff"/>
<text x="359" y="327.2" font-size="3.2" font-weight="bold" fill="#333" textLength="41.5" font-family="Liberation Sans, Arial, sans-serif">Maximum loading ratings</text>
<rect x="359" y="329.8" width="12.7" height="3.2" fill="#222"/>
<path d="M371.7,329.8 H385 L386.6,333 H371.7" fill="#fff" stroke="#555" stroke-width="0.6"/>
<path d="M359,335.8 H371.7 M359,334.8 V336.8 M371.7,334.8 V336.8" stroke="#444" stroke-width="0.6" fill="none"/>
<text x="359" y="340" font-size="3" font-weight="bold" fill="#333" textLength="12.5" font-family="Liberation Sans, Arial, sans-serif">10A max</text>
<text x="360.8" y="352.8" font-size="4.8" fill="#666" textLength="18.2" font-family="Liberation Sans, Arial, sans-serif">• tc=75℃</text>
<text x="360.3" y="359.4" font-size="5.4" fill="#555" textLength="34.5" font-family="Liberation Sans, Arial, sans-serif">TEMP RANGE:</text>
<text x="360.3" y="366.8" font-size="4.8" fill="#555" textLength="27.7" font-family="Liberation Sans, Arial, sans-serif">-20℃~+50℃</text>
<text transform="translate(410.4,349.3) rotate(-90)" font-size="4.3" fill="#555" textLength="24.3" font-family="Liberation Sans, Arial, sans-serif">12-48V DC</text>
<text transform="translate(416,345) rotate(-90)" font-size="4.3" font-weight="bold" fill="#4a4a4a" textLength="14.6" font-family="Liberation Sans, Arial, sans-serif">INPUT</text>
<text transform="translate(415.9,402) rotate(-90)" font-size="5" fill="#555" textLength="30" font-family="Liberation Sans, Arial, sans-serif">LED OUTPUT</text>
<rect x="420.5" y="316" width="10.9" height="8.1" fill="#fff" stroke="#4a4645" stroke-width="1.1"/><text x="425.95" y="321.42" font-size="3.8" text-anchor="middle" fill="#555" font-family="Liberation Sans, Arial, sans-serif">V-</text>
<rect x="420.5" y="328.2" width="10.9" height="7.8" fill="#fff" stroke="#4a4645" stroke-width="1.1"/><text x="425.95" y="333.47" font-size="3.8" text-anchor="middle" fill="#555" font-family="Liberation Sans, Arial, sans-serif">V-</text>
<rect x="420.5" y="339.6" width="10.9" height="7.8" fill="#fff" stroke="#4a4645" stroke-width="1.1"/><text x="425.95" y="344.87" font-size="3.8" text-anchor="middle" fill="#555" font-family="Liberation Sans, Arial, sans-serif">V+</text>
<rect x="420.5" y="351.3" width="10.9" height="8.1" fill="#fff" stroke="#4a4645" stroke-width="1.1"/><text x="425.95" y="356.72" font-size="3.8" text-anchor="middle" fill="#555" font-family="Liberation Sans, Arial, sans-serif">V+</text>
<rect x="420.5" y="365.6" width="10.9" height="8.1" fill="#fff" stroke="#4a4645" stroke-width="1.1"/><text x="425.95" y="371.02" font-size="3.8" text-anchor="middle" fill="#555" font-family="Liberation Sans, Arial, sans-serif">+</text>
<rect x="420.5" y="375.9" width="10.9" height="8.1" fill="#fff" stroke="#4a4645" stroke-width="1.1"/><text x="425.95" y="381.32" font-size="3.8" text-anchor="middle" fill="#555" font-family="Liberation Sans, Arial, sans-serif">+</text>
<rect x="420.5" y="388.4" width="10.9" height="7.6" fill="#fff" stroke="#4a4645" stroke-width="1.1"/><text x="425.95" y="393.57" font-size="3.8" text-anchor="middle" fill="#555" font-family="Liberation Sans, Arial, sans-serif">-</text>
<rect x="420.5" y="399.3" width="10.9" height="7.4" fill="#fff" stroke="#4a4645" stroke-width="1.1"/><text x="425.95" y="404.37" font-size="3.8" text-anchor="middle" fill="#555" font-family="Liberation Sans, Arial, sans-serif">-</text>
</g>
<rect x="47" y="450" width="89.6" height="89.4" fill="#fff" stroke="#4a4645" stroke-width="1.2"/>
<rect x="58" y="461.4" width="67.4" height="67.2" rx="3.5" fill="#fff" stroke="#4a4645" stroke-width="1.2"/>
<text x="72.4" y="498" font-size="8.4" textLength="39" fill="#3e3a39" font-family="Liberation Sans, Arial, sans-serif">AC PUSH</text>
<path d="M31.2,597 H48 C54,597 57,603 63,603 H82 Q87,603 87,598 V572 C87,566 85.6,565 85.6,560 V540" fill="none" stroke="#e60012" stroke-width="2.2" stroke-linejoin="round"/>
<path d="M98,540 V560 C98,565 95.2,566 95.2,572 V598 Q95.2,603 100.2,603 H166 C172,603 172,598 178,598 H192.6" fill="none" stroke="#e60012" stroke-width="2.2" stroke-linejoin="round"/>
<path d="M31.2,614.5 H49 C55,614.5 56,608.8 62,608.8 H167 C173,608.8 173,611.3 179,611.3 H192.6" fill="none" stroke="#b9b9b9" stroke-width="2.6" stroke-linejoin="round"/>
<text x="31.6" y="593.4" font-size="7.4" fill="#3e3a39" font-family="Liberation Sans, Arial, sans-serif">L</text>
<text x="31.4" y="626.6" font-size="7.4" fill="#3e3a39" font-family="Liberation Sans, Arial, sans-serif">N</text>
<rect x="401.6" y="449.40000000000003" width="131.8" height="52.4" rx="4.6" fill="#ececec" stroke="#757575" stroke-width="1.3"/>
<rect x="404.9" y="452.2" width="125.2" height="46.8" rx="2.4" fill="#fff" stroke="#6a6a6a" stroke-width="1.4"/>
<text x="467.4" y="474.5" font-size="8.8" font-weight="bold" text-anchor="middle" fill="#231815" textLength="68" font-family="Liberation Sans, Arial, sans-serif">12V/24V/36V/48V</text>
<text x="467.4" y="483.90000000000003" font-size="8.8" font-weight="bold" text-anchor="middle" fill="#231815" textLength="33" font-family="Liberation Sans, Arial, sans-serif">CV PSU</text>
<text transform="translate(514.3,491.40000000000003) rotate(-90)" font-size="6.8" fill="#444" textLength="29.8" font-family="Liberation Sans, Arial, sans-serif">OUTPUT</text>
<text x="518.6" y="472.0" font-size="8.2" fill="#444" font-family="Liberation Sans, Arial, sans-serif">V-</text>
<text x="517.8" y="487.8" font-size="8.2" fill="#444" textLength="9.6" font-family="Liberation Sans, Arial, sans-serif">V+</text>
<path d="M534.6,468.5 H548 C553,468.5 557,474.8 563.5,474.8 H595.6 Q601.6,474.8 601.6,480.8 V565.4 Q601.6,571.4 595.6,571.4 H487 C480,571.4 479,564 472,564 H461.2" fill="none" stroke="#a0a0a0" stroke-width="2.4" stroke-linejoin="round"/><path d="M534.6,468.5 H548 C553,468.5 557,474.8 563.5,474.8 H595.6 Q601.6,474.8 601.6,480.8 V565.4 Q601.6,571.4 595.6,571.4 H487 C480,571.4 479,564 472,564 H461.2" fill="none" stroke="#bdbdbd" stroke-width="0.8" stroke-linejoin="round"/>
<path d="M461.2,566.8 H468.6 V576.8 H461.2" fill="none" stroke="#9c9c9c" stroke-width="1" stroke-linejoin="round"/>
<path d="M534.6,485 H548 C554,485 557,478.5 563.5,478.5 H591.4 Q597.4,478.5 597.4,484.5 V571 Q597.4,578 590.4,578 H487 C480,578 479,587.4 472,587.4 H461.2" fill="none" stroke="#e60012" stroke-width="2.3" stroke-linejoin="round"/>
<path d="M461.2,590 H468.6 V600.4 H461.2" fill="none" stroke="#e60012" stroke-width="1.3" stroke-linejoin="round"/>
<path d="M461.2,609 H468 C479,609 476,617.6 489,617.6 H533 C543,617.6 541,615.4 551,615.4 H559" fill="none" stroke="#e60012" stroke-width="1.25" stroke-linejoin="round"/>
<path d="M461.2,632 H470 C481,632 476,623 487,623 H533 C543,623 541,625.2 551,625.2 H559" fill="none" stroke="#3e3a39" stroke-width="1.25" stroke-linejoin="round"/>
<path d="M461.2,622 H468 C482,622 475,641 490,641 H533 C543,641 541,636.8 551,636.8 H559" fill="none" stroke="#e60012" stroke-width="1.25" stroke-linejoin="round"/>
<path d="M461.2,645.4 L559,645.6" fill="none" stroke="#3e3a39" stroke-width="1.25" stroke-linejoin="round"/>
<rect x="556.2" y="611.9" width="200" height="16.9" fill="#f1f1f1" stroke="#5a5a5a" stroke-width="1.1"/>
<rect x="563.40" y="616.10" width="8.6" height="8.6" fill="url(#led)" stroke="#3c3c3c" stroke-width="1"/>
<rect x="582.82" y="616.10" width="8.6" height="8.6" fill="url(#led)" stroke="#3c3c3c" stroke-width="1"/>
<rect x="602.24" y="616.10" width="8.6" height="8.6" fill="url(#led)" stroke="#3c3c3c" stroke-width="1"/>
<rect x="621.66" y="616.10" width="8.6" height="8.6" fill="url(#led)" stroke="#3c3c3c" stroke-width="1"/>
<rect x="641.08" y="616.10" width="8.6" height="8.6" fill="url(#led)" stroke="#3c3c3c" stroke-width="1"/>
<rect x="660.50" y="616.10" width="8.6" height="8.6" fill="url(#led)" stroke="#3c3c3c" stroke-width="1"/>
<rect x="679.92" y="616.10" width="8.6" height="8.6" fill="url(#led)" stroke="#3c3c3c" stroke-width="1"/>
<rect x="699.34" y="616.10" width="8.6" height="8.6" fill="url(#led)" stroke="#3c3c3c" stroke-width="1"/>
<rect x="718.76" y="616.10" width="8.6" height="8.6" fill="url(#led)" stroke="#3c3c3c" stroke-width="1"/>
<rect x="738.18" y="616.10" width="8.6" height="8.6" fill="url(#led)" stroke="#3c3c3c" stroke-width="1"/>
<rect x="556.8000000000001" y="616.10" width="5.4" height="8.6" fill="#fafafa"/>
<ellipse cx="559.5" cy="616.10" rx="1.9" ry="1.25" fill="#c8c8c8" stroke="#2e2e2e" stroke-width="0.9"/>
<ellipse cx="559.5" cy="624.70" rx="1.9" ry="1.25" fill="#c8c8c8" stroke="#2e2e2e" stroke-width="0.9"/>
<ellipse cx="751.5" cy="616.10" rx="1.9" ry="1.25" fill="#c8c8c8" stroke="#2e2e2e" stroke-width="0.9"/>
<ellipse cx="751.5" cy="624.70" rx="1.9" ry="1.25" fill="#c8c8c8" stroke="#2e2e2e" stroke-width="0.9"/>
<line x1="562.2" y1="616.9" x2="562.2" y2="623.9" stroke="#777" stroke-width="0.5"/>
<rect x="556.2" y="632.3" width="200" height="16.9" fill="#f1f1f1" stroke="#5a5a5a" stroke-width="1.1"/>
<rect x="563.40" y="636.50" width="8.6" height="8.6" fill="url(#led)" stroke="#3c3c3c" stroke-width="1"/>
<rect x="582.82" y="636.50" width="8.6" height="8.6" fill="url(#led)" stroke="#3c3c3c" stroke-width="1"/>
<rect x="602.24" y="636.50" width="8.6" height="8.6" fill="url(#led)" stroke="#3c3c3c" stroke-width="1"/>
<rect x="621.66" y="636.50" width="8.6" height="8.6" fill="url(#led)" stroke="#3c3c3c" stroke-width="1"/>
<rect x="641.08" y="636.50" width="8.6" height="8.6" fill="url(#led)" stroke="#3c3c3c" stroke-width="1"/>
<rect x="660.50" y="636.50" width="8.6" height="8.6" fill="url(#led)" stroke="#3c3c3c" stroke-width="1"/>
<rect x="679.92" y="636.50" width="8.6" height="8.6" fill="url(#led)" stroke="#3c3c3c" stroke-width="1"/>
<rect x="699.34" y="636.50" width="8.6" height="8.6" fill="url(#led)" stroke="#3c3c3c" stroke-width="1"/>
<rect x="718.76" y="636.50" width="8.6" height="8.6" fill="url(#led)" stroke="#3c3c3c" stroke-width="1"/>
<rect x="738.18" y="636.50" width="8.6" height="8.6" fill="url(#led)" stroke="#3c3c3c" stroke-width="1"/>
<rect x="556.8000000000001" y="636.50" width="5.4" height="8.6" fill="#fafafa"/>
<ellipse cx="559.5" cy="636.50" rx="1.9" ry="1.25" fill="#c8c8c8" stroke="#2e2e2e" stroke-width="0.9"/>
<ellipse cx="559.5" cy="645.10" rx="1.9" ry="1.25" fill="#c8c8c8" stroke="#2e2e2e" stroke-width="0.9"/>
<ellipse cx="751.5" cy="636.50" rx="1.9" ry="1.25" fill="#c8c8c8" stroke="#2e2e2e" stroke-width="0.9"/>
<ellipse cx="751.5" cy="645.10" rx="1.9" ry="1.25" fill="#c8c8c8" stroke="#2e2e2e" stroke-width="0.9"/>
<line x1="562.2" y1="637.3" x2="562.2" y2="644.3" stroke="#777" stroke-width="0.5"/>
<text x="612" y="606.4" font-size="7" font-weight="bold" textLength="105.4" fill="#3e3a39" font-family="Liberation Sans, Arial, sans-serif">Single Color LED strip, max. 10A</text>
<text x="612" y="657.6" font-size="7" font-weight="bold" textLength="105.4" fill="#3e3a39" font-family="Liberation Sans, Arial, sans-serif">Single Color LED strip, max. 10A</text>
<text x="612.4" y="541.6" font-size="7" font-weight="bold" textLength="69.4" fill="#3e3a39" font-family="Liberation Sans, Arial, sans-serif">Max. 20A Power Input</text>
</g>
</svg></body></html>
